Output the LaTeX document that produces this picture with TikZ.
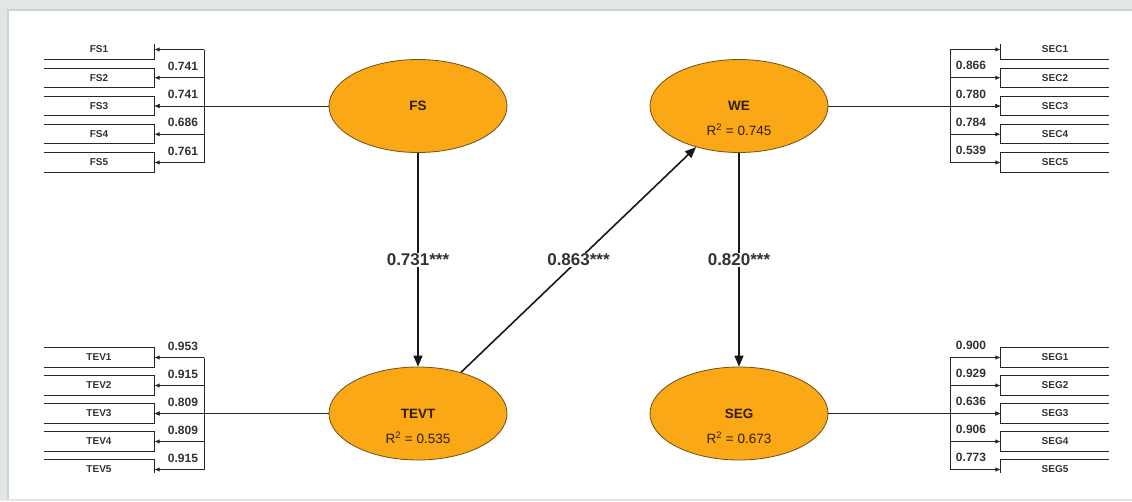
\documentclass[tikz,border=0pt]{standalone}
\usepackage{fontspec}
\setmainfont{Liberation Sans}
\usetikzlibrary{shapes.geometric,arrows.meta}
\definecolor{bggray}{RGB}{226,230,230}
\definecolor{edgegray}{RGB}{205,209,209}
\definecolor{lvfill}{RGB}{251,168,22}
\definecolor{lvdraw}{RGB}{110,78,25}
\definecolor{lvtext}{RGB}{45,30,10}
\definecolor{txt}{RGB}{50,50,50}
\tikzset{
 lv/.style={ellipse, draw=lvdraw, fill=lvfill, line width=0.8pt, minimum width=178pt, minimum height=93pt, inner sep=0pt},
 lvname/.style={font=\fontsize{13.5}{15}\selectfont\bfseries, text=lvtext, inner sep=0pt},
 lvr/.style={font=\fontsize{13.5}{15}\selectfont, text=lvtext, inner sep=0pt},
 ind/.style={minimum width=110pt, minimum height=19pt, inner sep=0pt, font=\fontsize{10}{12}\selectfont\bfseries, text=txt},
 indline/.style={line width=1pt, draw=black!85},
 indarrow/.style={indline, -{Latex[length=5.5pt,width=4.5pt]}},
 load/.style={font=\fontsize{12}{14}\selectfont\bfseries, text=txt, inner sep=0pt},
 patharrow/.style={line width=1.6pt, draw=black!90, -{Triangle[length=11pt,width=9pt]}},
 coef/.style={font=\fontsize{17}{19}\selectfont\bfseries, text=txt, fill=white, inner sep=1pt},
}
\begin{document}
\begin{tikzpicture}[x=1pt,y=-1pt]
\useasboundingbox (0,0) rectangle (1132,501);
\fill[bggray] (0,0) rectangle (1132,501);
\fill[white] (8,10) rectangle (1132,499);
\draw[edgegray, line width=2pt] (8,499) -- (8,10) -- (1132,10);
\begin{scope}
\clip (0,44) rectangle (1132,472);
% latent variables
\node[lv] (FS) at (418,106) {};
\node[lv] (WE) at (739,106) {};
\node[lv] (TEVT) at (418,413.5) {};
\node[lv] (SEG) at (739,413.5) {};
\node[lvname] (FSn) at (FS.center) {FS};
\node[lvname] (WEn) at (WE.center) {WE};
\node[lvr] (WEr) at ([yshift=-24pt]WE.center) {R\textsuperscript{2} = 0.745};
\node[lvname] (TEVTn) at (TEVT.center) {TEVT};
\node[lvr] (TEVTr) at ([yshift=-24pt]TEVT.center) {R\textsuperscript{2} = 0.535};
\node[lvname] (SEGn) at (SEG.center) {SEG};
\node[lvr] (SEGr) at ([yshift=-24pt]SEG.center) {R\textsuperscript{2} = 0.673};
% structural paths
\draw[patharrow] (FS) -- node[coef] (c1) {0.731***} (TEVT);
\draw[patharrow] (TEVT) -- node[coef] (c2) {0.863***} (WE);
\draw[patharrow] (WE) -- node[coef] (c3) {0.820***} (SEG);
% FS indicators
\foreach \n/\y in {1/49.5,2/77.75,3/106,4/134.25,5/162.5} {
 \node[ind] (FS\n) at (99,\y) {FS\n};
 \draw[indline] (FS\n.north west) -- (FS\n.north east) -- (FS\n.south east) -- (FS\n.south west);
 \coordinate (cFS\n) at (204,\y);
 \draw[indarrow] (cFS\n) -- (FS\n.east);
}
\draw[indline] (cFS1) -- (cFS5);
\draw[indarrow] (FS) -- (FS3.east);
\foreach \n/\v in {2/0.741,3/0.741,4/0.686,5/0.761}
 \node[load] (lFS\n) at ([xshift=-21pt,yshift=11.5pt]cFS\n) {\v};
% TEVT indicators
\foreach \n/\y in {1/357.5,2/385.5,3/413.5,4/441.5,5/469.5} {
 \node[ind] (TEV\n) at (99,\y) {TEV\n};
 \draw[indline] (TEV\n.north west) -- (TEV\n.north east) -- (TEV\n.south east) -- (TEV\n.south west);
 \coordinate (cTEV\n) at (204,\y);
 \draw[indarrow] (cTEV\n) -- (TEV\n.east);
}
\draw[indline] (cTEV1) -- (cTEV5);
\draw[indarrow] (TEVT) -- (TEV3.east);
\foreach \n/\v in {1/0.953,2/0.915,3/0.809,4/0.809,5/0.915}
 \node[load] (lTEV\n) at ([xshift=-21pt,yshift=11.5pt]cTEV\n) {\v};
% WE indicators
\foreach \n/\y in {1/49.5,2/77.75,3/106,4/134.25,5/162.5} {
 \node[ind,minimum width=108pt] (SEC\n) at (1055,\y) {SEC\n};
 \draw[indline] (SEC\n.north east) -- (SEC\n.north west) -- (SEC\n.south west) -- (SEC\n.south east);
 \coordinate (cSEC\n) at (950,\y);
 \draw[indarrow] (cSEC\n) -- (SEC\n.west);
}
\draw[indline] (cSEC1) -- (cSEC5);
\draw[indarrow] (WE) -- (SEC3.west);
\foreach \n/\v in {2/0.866,3/0.780,4/0.784,5/0.539}
 \node[load] (lSEC\n) at ([xshift=21pt,yshift=12pt]cSEC\n) {\v};
% SEG indicators
\foreach \n/\y in {1/357.5,2/385.5,3/413.5,4/441.5,5/469.5} {
 \node[ind,minimum width=108pt] (SEG\n) at (1055,\y) {SEG\n};
 \draw[indline] (SEG\n.north east) -- (SEG\n.north west) -- (SEG\n.south west) -- (SEG\n.south east);
 \coordinate (cSEG\n) at (950,\y);
 \draw[indarrow] (cSEG\n) -- (SEG\n.west);
}
\draw[indline] (cSEG1) -- (cSEG5);
\draw[indarrow] (SEG) -- (SEG3.west);
\foreach \n/\v in {1/0.900,2/0.929,3/0.636,4/0.906,5/0.773}
 \node[load] (lSEG\n) at ([xshift=21pt,yshift=12pt]cSEG\n) {\v};
\end{scope}
\end{tikzpicture}
\end{document}
